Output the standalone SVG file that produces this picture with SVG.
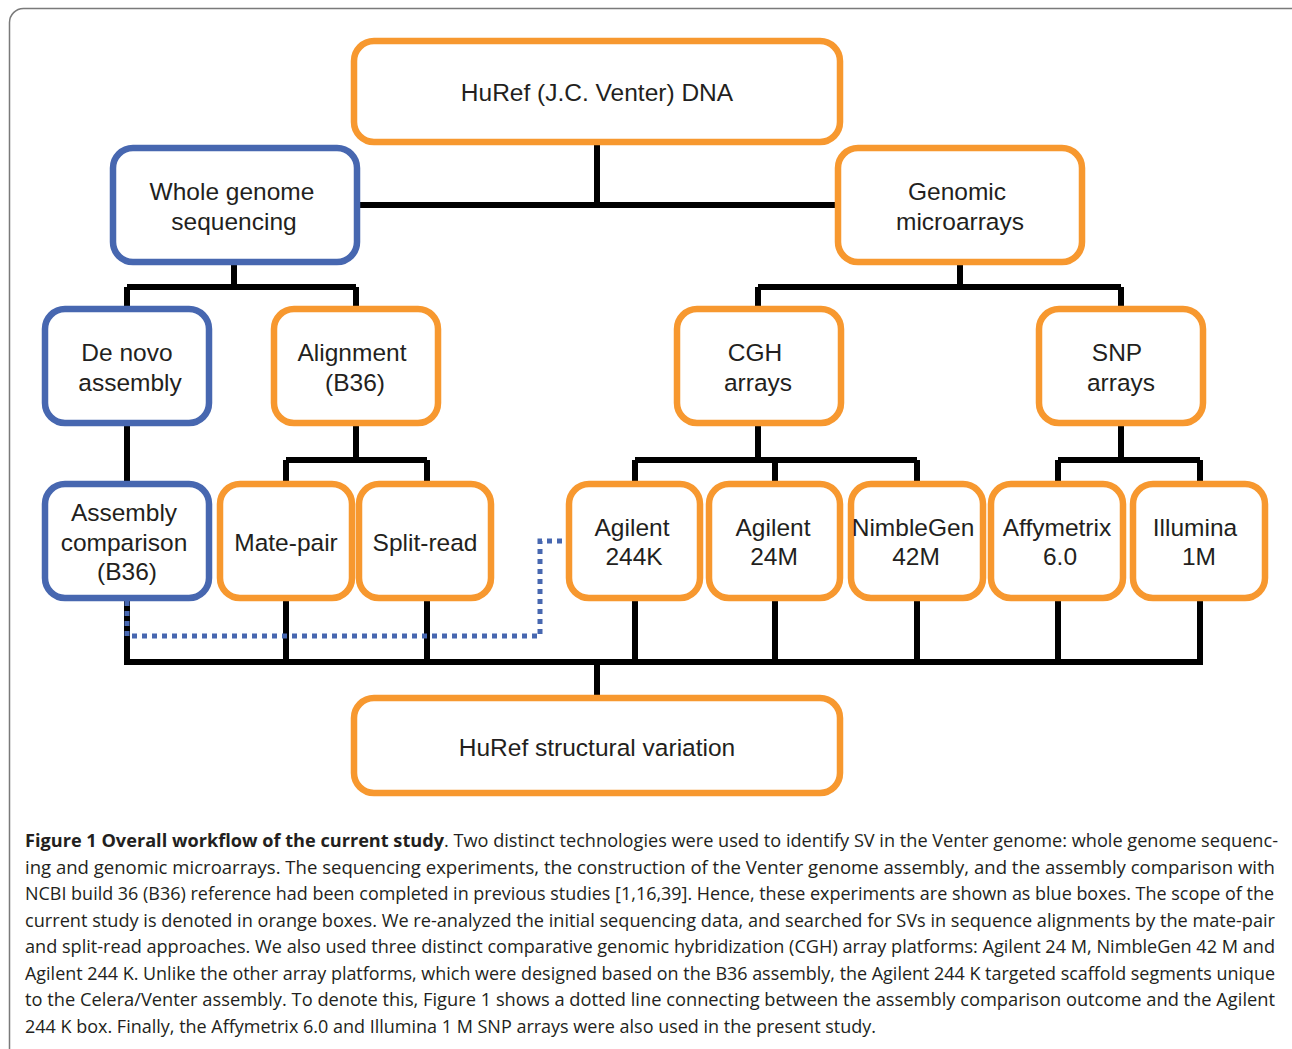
<svg xmlns="http://www.w3.org/2000/svg" width="1292" height="1049" viewBox="0 0 1292 1049">
<style>
.o{fill:#fff;stroke:#F7982F;stroke-width:6.5}
.b{fill:#fff;stroke:#4767B0;stroke-width:6.5}
.t{font-family:"Liberation Sans",Arial,sans-serif;font-size:24.5px;fill:#231F20;text-anchor:middle}
.c{font-family:"Open Sans","Noto Sans",sans-serif;font-size:17.8px;fill:#231F20}
.w{fill:none;stroke:#000;stroke-width:6}
</style>
<rect x="9.5" y="8.5" width="1295" height="1070" rx="14" fill="#fff" stroke="#7a7a7a" stroke-width="1.5"/>
<g id="connectors">
<path class="w" d="M597,142V205M357,205H838"/>
<path class="w" d="M234,262V287M127,287H356M127,287V308M356,287V308"/>
<path class="w" d="M960,262V287M758,287H1121M758,287V308M1121,287V308"/>
<path class="w" d="M127,423V484"/>
<path class="w" d="M356,423V460M286,460H427M286,460V484M427,460V484"/>
<path class="w" d="M758,423V460M635,460H917M635,460V484M775,460V484M917,460V484"/>
<path class="w" d="M1121,423V460M1058,460H1200M1058,460V484M1200,460V484"/>
<path class="w" d="M127,598V662M286,598V662M427,598V662M635,598V662M775,598V662M917,598V662M1058,598V662M1200,598V662M124,662H1203M597,662V698"/>
<path d="M127,601V636H540V541H569" fill="none" stroke="#4767B0" stroke-width="5" stroke-dasharray="5,5"/>
</g>
<g id="huref-dna"><rect class="o" x="354" y="41" width="486" height="101" rx="20"/><text class="t" x="597" y="101">HuRef (J.C. Venter) DNA</text></g>
<g id="wgs"><rect class="b" x="113" y="148" width="244" height="114" rx="20"/><text class="t" x="232" y="200">Whole genome</text><text class="t" x="234" y="230">sequencing</text></g>
<g id="microarrays"><rect class="o" x="838" y="148" width="244" height="114" rx="20"/><text class="t" x="957" y="200">Genomic</text><text class="t" x="960" y="230">microarrays</text></g>
<g id="denovo"><rect class="b" x="45" y="309" width="164" height="114" rx="20"/><text class="t" x="127" y="361">De novo</text><text class="t" x="130" y="391">assembly</text></g>
<g id="alignment"><rect class="o" x="274" y="309" width="164" height="114" rx="20"/><text class="t" x="352" y="361">Alignment</text><text class="t" x="355" y="391">(B36)</text></g>
<g id="cgh"><rect class="o" x="677" y="309" width="164" height="114" rx="20"/><text class="t" x="755" y="361">CGH</text><text class="t" x="758" y="391">arrays</text></g>
<g id="snp"><rect class="o" x="1039" y="309" width="164" height="114" rx="20"/><text class="t" x="1117" y="361">SNP</text><text class="t" x="1121" y="391">arrays</text></g>
<g id="asmcomp"><rect class="b" x="45" y="484" width="164" height="114" rx="20"/><text class="t" x="124" y="521">Assembly</text><text class="t" x="124" y="551">comparison</text><text class="t" x="127" y="580">(B36)</text></g>
<g id="matepair"><rect class="o" x="220" y="484" width="132" height="114" rx="20"/><text class="t" x="286" y="551">Mate-pair</text></g>
<g id="splitread"><rect class="o" x="359" y="484" width="132" height="114" rx="20"/><text class="t" x="425" y="551">Split-read</text></g>
<g id="agilent244k"><rect class="o" x="569" y="484" width="131" height="114" rx="20"/><text class="t" x="632" y="536">Agilent</text><text class="t" x="634" y="565">244K</text></g>
<g id="agilent24m"><rect class="o" x="709" y="484" width="131" height="114" rx="20"/><text class="t" x="773" y="536">Agilent</text><text class="t" x="774" y="565">24M</text></g>
<g id="nimblegen"><rect class="o" x="851" y="484" width="132" height="114" rx="20"/><text class="t" x="913" y="536">NimbleGen</text><text class="t" x="916" y="565">42M</text></g>
<g id="affymetrix"><rect class="o" x="991" y="484" width="132" height="114" rx="20"/><text class="t" x="1057" y="536">Affymetrix</text><text class="t" x="1060" y="565">6.0</text></g>
<g id="illumina"><rect class="o" x="1133" y="484" width="132" height="114" rx="20"/><text class="t" x="1195" y="536">Illumina</text><text class="t" x="1199" y="565">1M</text></g>
<g id="huref-sv"><rect class="o" x="354" y="698" width="486" height="95" rx="20"/><text class="t" x="597" y="756">HuRef structural variation</text></g>
<g id="caption">
<text class="c" x="25" y="847" font-weight="bold" textLength="419" lengthAdjust="spacingAndGlyphs">Figure 1 Overall workflow of the current study</text>
<text class="c" x="444" y="847" textLength="834" lengthAdjust="spacingAndGlyphs">. Two distinct technologies were used to identify SV in the Venter genome: whole genome sequenc-</text>
<text class="c" x="25" y="873.5" textLength="1250" lengthAdjust="spacingAndGlyphs">ing and genomic microarrays. The sequencing experiments, the construction of the Venter genome assembly, and the assembly comparison with</text>
<text class="c" x="25" y="900" textLength="1249" lengthAdjust="spacingAndGlyphs">NCBI build 36 (B36) reference had been completed in previous studies [1,16,39]. Hence, these experiments are shown as blue boxes. The scope of the</text>
<text class="c" x="25" y="926.5" textLength="1250" lengthAdjust="spacingAndGlyphs">current study is denoted in orange boxes. We re-analyzed the initial sequencing data, and searched for SVs in sequence alignments by the mate-pair</text>
<text class="c" x="25" y="953" textLength="1250" lengthAdjust="spacingAndGlyphs">and split-read approaches. We also used three distinct comparative genomic hybridization (CGH) array platforms: Agilent 24 M, NimbleGen 42 M and</text>
<text class="c" x="25" y="979.5" textLength="1250" lengthAdjust="spacingAndGlyphs">Agilent 244 K. Unlike the other array platforms, which were designed based on the B36 assembly, the Agilent 244 K targeted scaffold segments unique</text>
<text class="c" x="25" y="1006" textLength="1250" lengthAdjust="spacingAndGlyphs">to the Celera/Venter assembly. To denote this, Figure 1 shows a dotted line connecting between the assembly comparison outcome and the Agilent</text>
<text class="c" x="25" y="1032.5" textLength="851" lengthAdjust="spacingAndGlyphs">244 K box. Finally, the Affymetrix 6.0 and Illumina 1 M SNP arrays were also used in the present study.</text>
</g>
</svg>
